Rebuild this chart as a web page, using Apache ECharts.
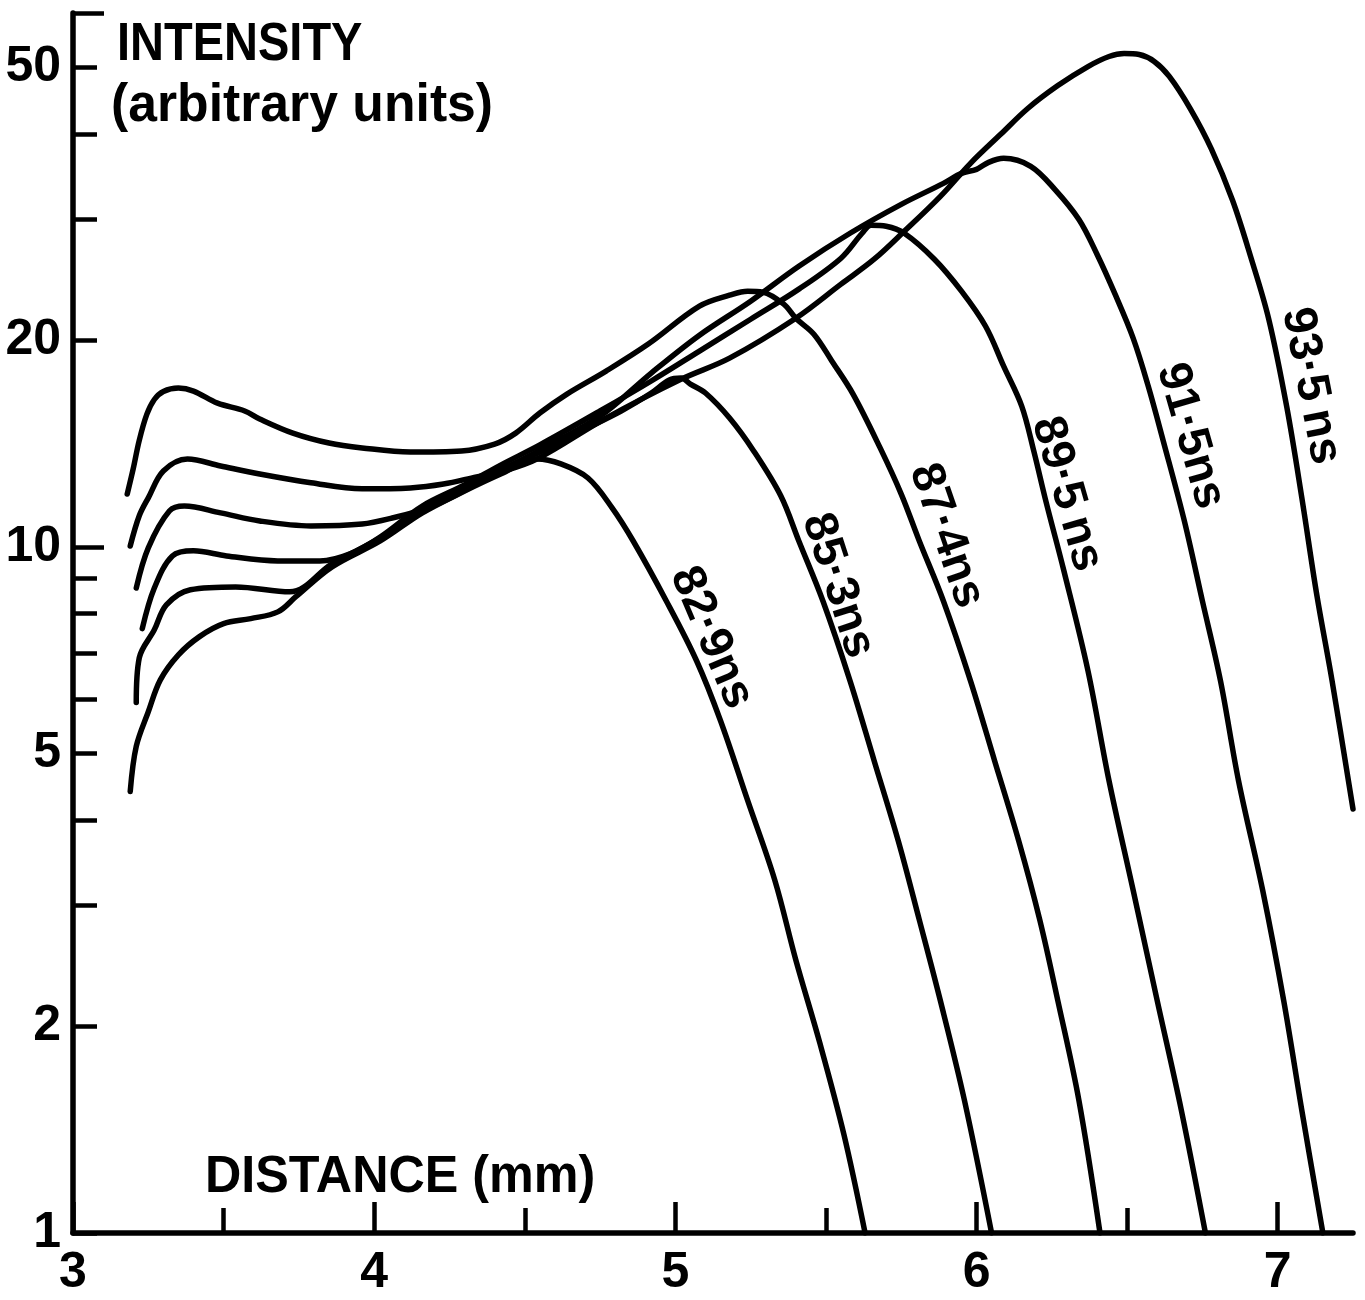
<!DOCTYPE html>
<html>
<head>
<meta charset="utf-8">
<script src="https://cdn.jsdelivr.net/npm/echarts@6/dist/echarts.min.js"></script>
<style>html,body{margin:0;padding:0;background:#fff}#c{width:1365px;height:1300px}</style>
</head>
<body>
<div id="c"></div>
<script>
// ---- data (distance in mm, intensity in arbitrary units) ----
const curveNames = ['82·9ns', '85·3ns', '87·4ns', '89·5\u2009ns', '91·5ns', '93·5\u2009ns'];

const s829 = [[3.19,4.40],[3.21,5.12],[3.25,5.75],[3.29,6.40],[3.35,6.96],[3.42,7.40],[3.50,7.73],[3.59,7.86],[3.68,8.04],[3.74,8.46],[3.86,9.35],[4.02,10.2],[4.16,11.21],[4.30,12.06],[4.42,12.77],[4.54,13.43],[4.62,13.21],[4.71,12.6],[4.79,11.4],[4.86,10.2],[4.97,8.34],[5.07,6.83],[5.15,5.58],[5.24,4.27],[5.33,3.27],[5.40,2.50],[5.48,1.89],[5.56,1.39],[5.63,1.0]];

const s853 = [[3.21,5.93],[3.22,6.89],[3.27,7.57],[3.31,8.23],[3.39,8.66],[3.54,8.74],[3.72,8.60],[3.86,9.45],[4.02,10.31],[4.16,11.36],[4.30,12.19],[4.42,12.95],[4.55,13.75],[4.68,14.70],[4.82,15.78],[4.92,16.76],[4.98,17.51],[5.02,17.62],[5.05,17.27],[5.10,16.76],[5.18,15.41],[5.26,13.80],[5.35,11.87],[5.41,10.2],[5.49,8.34],[5.58,6.38],[5.66,4.88],[5.74,3.73],[5.81,2.86],[5.88,2.18],[5.96,1.56],[6.05,1.0]];

const s874 = [[3.18,11.94],[3.20,13.0],[3.22,14.3],[3.245,15.6],[3.27,16.4],[3.30,16.85],[3.35,17.04],[3.40,16.87],[3.48,16.20],[3.57,15.78],[3.62,15.36],[3.73,14.65],[3.85,14.17],[3.96,13.94],[4.12,13.75],[4.29,13.80],[4.40,14.12],[4.47,14.65],[4.55,15.67],[4.64,16.70],[4.77,18.04],[4.91,19.75],[5.08,22.43],[5.18,23.27],[5.24,23.59],[5.29,23.51],[5.36,22.58],[5.40,21.54],[5.46,20.42],[5.52,18.65],[5.59,16.70],[5.68,13.94],[5.75,11.94],[5.81,10.2],[5.89,8.34],[5.98,6.38],[6.06,4.88],[6.14,3.73],[6.21,2.86],[6.27,2.18],[6.34,1.56],[6.41,1.0]];

const s895 = [[3.23,7.60],[3.27,8.71],[3.33,9.70],[3.40,9.87],[3.51,9.70],[3.68,9.54],[3.82,9.54],[3.92,9.77],[4.02,10.34],[4.16,11.47],[4.30,12.31],[4.42,13.16],[4.55,14.08],[4.75,15.78],[4.92,17.45],[5.08,19.29],[5.25,21.47],[5.41,23.75],[5.55,26.35],[5.62,28.65],[5.65,29.43],[5.70,29.33],[5.76,28.65],[5.86,26.26],[5.95,23.59],[6.03,20.97],[6.09,18.34],[6.15,16.04],[6.19,13.80],[6.23,11.67],[6.29,9.23],[6.37,6.60],[6.44,4.56],[6.52,3.16],[6.60,2.18],[6.68,1.51],[6.76,1.0]];

const s915 = [[3.21,8.71],[3.25,9.97],[3.32,11.28],[3.37,11.47],[3.49,11.21],[3.62,10.91],[3.79,10.73],[3.96,10.80],[4.06,11.02],[4.18,11.40],[4.29,12.02],[4.42,12.90],[4.55,13.84],[4.75,15.51],[4.92,17.92],[5.08,20.35],[5.25,22.81],[5.41,25.65],[5.58,28.65],[5.75,31.57],[5.89,33.87],[5.95,35.03],[6.00,35.50],[6.04,36.35],[6.09,36.84],[6.18,35.87],[6.26,33.2],[6.34,30.0],[6.40,26.7],[6.46,23.35],[6.52,20.15],[6.57,17.16],[6.62,14.27],[6.69,10.91],[6.75,8.34],[6.81,6.38],[6.87,4.56],[6.95,3.16],[7.02,2.18],[7.08,1.51],[7.15,1.0]];

const s935 = [[3.19,10.03],[3.22,11.10],[3.25,11.79],[3.30,12.90],[3.38,13.43],[3.49,13.12],[3.62,12.77],[3.79,12.40],[3.96,12.15],[4.12,12.19],[4.23,12.35],[4.34,12.65],[4.42,12.86],[4.54,13.43],[4.77,15.41],[5.02,17.56],[5.18,18.84],[5.40,21.54],[5.55,24.15],[5.66,26.26],[5.76,28.84],[5.88,32.43],[5.98,36.23],[6.08,39.93],[6.17,43.55],[6.27,47.03],[6.37,50.13],[6.44,51.85],[6.49,52.38],[6.54,52.2],[6.59,51.0],[6.64,48.5],[6.71,43.5],[6.78,38.0],[6.85,32.0],[6.91,26.5],[6.97,21.5],[7.03,16.0],[7.08,11.8],[7.13,8.5],[7.18,6.4],[7.25,4.15]];

// curve label anchor points (data coords) and text angles
const labelAnchors = [[5.12,7.37],[5.54,8.78],[5.90,10.38],[6.30,11.94],[6.71,14.51],[7.11,17.16]];
const labelAngles = [-67,-72,-71,-74,-74,-79];

// axis ticks / labels
const xTickLabels = [3,4,5,6,7];
const xMajorTicks = [3,4,5,6,7];
const xMinorTicks = [3.5,4.5,5.5,6.5];
const yTickLabels = [1,2,5,10,20,50];
const yShortTicks = [1,2,3,4,5,6,7,8,9,20,30,40,50];
const yLongTicks = [10,60];

const curves = [s829, s853, s874, s895, s915, s935];

// ---- chart ----
const FONT = '"Liberation Sans", Arial, sans-serif';
const chart = echarts.init(document.getElementById('c'), null, {renderer: 'canvas'});

const axisLineStyle = {color: '#000', width: 5.5};
const tickStyle = {color: '#000', width: 4.5};
const tickLabelStyle = {fontSize: 50, fontWeight: 'bold', fontFamily: FONT, color: '#000'};
const curveLabelStyle = {fontSize: 47, fontWeight: 'bold', fontFamily: FONT, color: '#000',
  opacity: 1, textBorderWidth: 0, textBorderColor: 'transparent', textShadowBlur: 0};

const option = {
  animation: false,
  backgroundColor: '#fff',
  grid: {left: 73, right: 12, top: 13, bottom: 67},
  xAxis: [
    {
      type: 'value', min: 3, max: 7.25, position: 'bottom',
      axisLine: {show: true, onZero: false, lineStyle: axisLineStyle},
      axisTick: {show: true, inside: true, length: 31, customValues: xMajorTicks, lineStyle: tickStyle},
      axisLabel: Object.assign({show: true, customValues: xTickLabels, margin: 15}, tickLabelStyle),
      splitLine: {show: false}
    },
    {
      type: 'value', min: 3, max: 7.25, position: 'bottom',
      axisLine: {show: false, onZero: false},
      axisTick: {show: true, inside: true, length: 25, customValues: xMinorTicks, lineStyle: tickStyle},
      axisLabel: {show: false},
      splitLine: {show: false}
    }
  ],
  yAxis: [
    {
      type: 'log', logBase: 10, min: 1, max: 60, position: 'left',
      axisLine: {show: true, onZero: false, lineStyle: axisLineStyle},
      axisTick: {show: true, inside: true, length: 24, customValues: yShortTicks, lineStyle: tickStyle},
      axisLabel: Object.assign({show: true, customValues: yTickLabels, margin: 12}, tickLabelStyle),
      splitLine: {show: false}
    },
    {
      type: 'log', logBase: 10, min: 1, max: 60, position: 'left',
      axisLine: {show: false, onZero: false},
      axisTick: {show: true, inside: true, length: 31, customValues: yLongTicks, lineStyle: tickStyle},
      axisLabel: {show: false},
      splitLine: {show: false}
    }
  ],
  graphic: [
    {type: 'text', left: 117, top: 19, scaleY: 1.13,
     style: {text: 'INTENSITY', font: 'bold 47px ' + FONT, fill: '#000'}},
    {type: 'text', left: 111, top: 80, scaleX: 1.1, scaleY: 1.13,
     style: {text: '(arbitrary units)', font: 'bold 47px ' + FONT, fill: '#000'}},
    {type: 'text', left: 205, top: 1152, scaleX: 1.07, scaleY: 1.1,
     style: {text: 'DISTANCE (mm)', font: 'bold 47px ' + FONT, fill: '#000'}}
  ],
  series: curves.map((c, i) => ({
    type: 'line',
    name: curveNames[i],
    data: c,
    xAxisIndex: 0,
    yAxisIndex: 0,
    symbol: 'none',
    showSymbol: false,
    smooth: 0.35,
    clip: true,
    silent: true,
    lineStyle: {color: '#000', width: 5.5, cap: 'round', join: 'round'},
    z: 3
  })).concat([{
    type: 'scatter',
    xAxisIndex: 0,
    yAxisIndex: 0,
    symbolSize: 0,
    itemStyle: {color: '#000', opacity: 1},
    silent: true,
    z: 5,
    data: labelAnchors.map((p, i) => ({
      value: p,
      label: {rotate: labelAngles[i], formatter: curveNames[i]}
    })),
    label: Object.assign({show: true, position: 'inside', align: 'center', verticalAlign: 'middle'}, curveLabelStyle)
  }])
};
chart.setOption(option);
</script>
</body>
</html>
